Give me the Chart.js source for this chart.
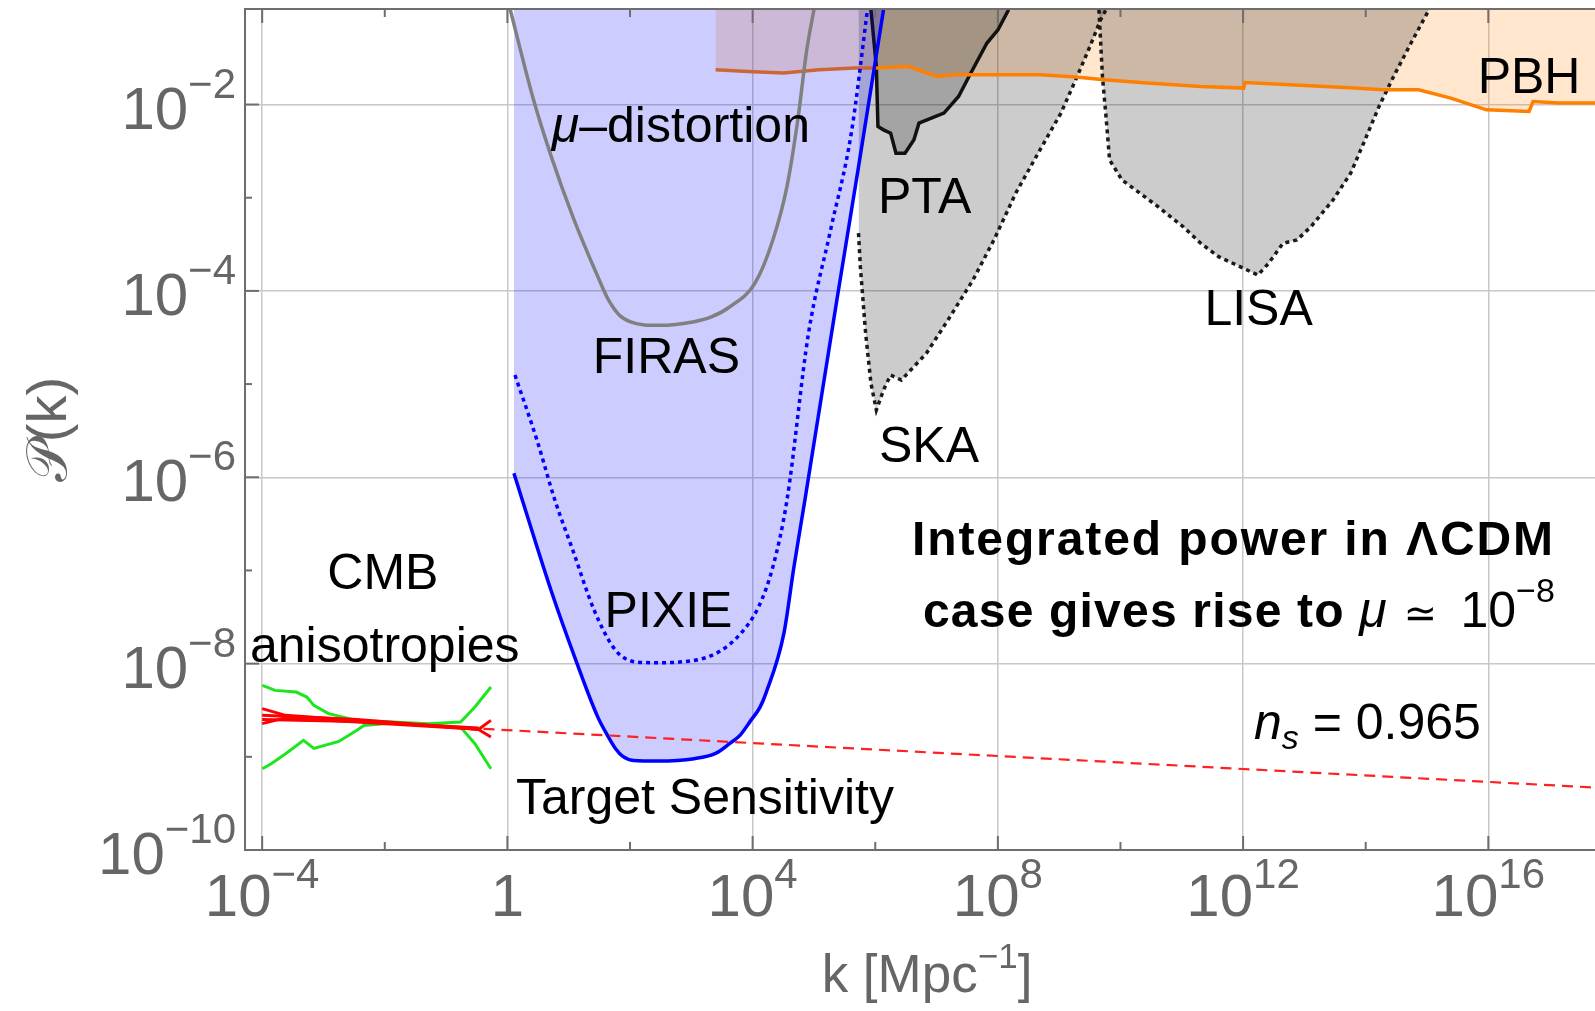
<!DOCTYPE html>
<html>
<head>
<meta charset="utf-8">
<script src="https://cdn.jsdelivr.net/npm/chart.js@4.4.1/dist/chart.umd.min.js"></script>
<style>
  html, body { margin: 0; padding: 0; background: #fff; }
  #wrap { width: 1595px; height: 1011px; position: relative; }
</style>
</head>
<body>
<div id="wrap"><canvas id="myChart"></canvas></div>
<script>
const ctx = document.getElementById("myChart");

// every number below is log10 of k [Mpc^-1] or of P(k)
const xRange = [-4.28, 17.74];
const yRange = [-10, -0.975];
const xTickExps = [-4, -2, 0, 2, 4, 6, 8, 10, 12, 14, 16];
const yTickExps = [-10, -9, -8, -7, -6, -5, -4, -3, -2];
const xLabelExps = [-4, 0, 4, 8, 12, 16];
const yLabelExps = [-10, -8, -6, -4, -2];

// PIXIE target sensitivity (solid blue, shaded above)
const pixieK = [0.106, 0.71, 1.117, 1.475, 1.649, 1.765, 1.882, 2.057, 2.45, 3.047, 3.396, 3.629, 3.793, 3.971, 4.119, 4.216, 4.51, 4.673, 4.852, 5.374, 5.727, 6.135];
const pixieP = [-5.956, -7.21, -7.965, -8.574, -8.788, -8.913, -8.996, -9.039, -9.045, -9.02, -8.963, -8.856, -8.77, -8.609, -8.47, -8.319, -7.675, -6.966, -6.246, -4.098, -2.669, -0.983];
// PIXIE (dotted blue)
const pixieDotK = [0.123, 0.482, 0.775, 1.067, 1.416, 1.765, 2.113, 2.465, 2.814, 3.396, 3.804, 4.096, 4.33, 4.56, 4.912, 5.261, 5.61, 5.873];
const pixieDotP = [-4.903, -5.601, -6.246, -6.783, -7.428, -7.857, -7.983, -7.99, -7.983, -7.893, -7.678, -7.392, -6.962, -6.246, -4.452, -3.378, -2.304, -0.983];
// FIRAS (grey)
const firasK = [0.047, 0.426, 0.716, 1.067, 1.475, 1.649, 1.824, 1.998, 2.232, 2.465, 3.047, 3.336, 3.63, 4.037, 4.33, 4.56, 4.737, 4.883, 5.0];
const firasP = [-0.983, -1.949, -2.559, -3.203, -3.847, -4.097, -4.259, -4.331, -4.366, -4.37, -4.331, -4.277, -4.17, -3.918, -3.453, -2.881, -2.164, -1.412, -0.983];
// PBH (orange)
const pbhK = [3.396, 3.923, 4.504, 5.082, 5.669, 6.018, 6.543, 7.006, 7.3, 7.708, 8.687, 9.269, 9.731, 10.432, 11.308, 12.008, 12.031, 12.765, 13.809, 14.282, 14.863, 15.387, 15.969, 16.664, 16.729, 17.137, 17.74];
const pbhP = [-1.627, -1.646, -1.663, -1.627, -1.609, -1.609, -1.592, -1.699, -1.681, -1.681, -1.681, -1.705, -1.734, -1.77, -1.807, -1.824, -1.764, -1.788, -1.824, -1.842, -1.842, -1.931, -2.057, -2.075, -1.968, -1.985, -1.985];
// PTA (black)
const ptaK = [5.93, 6.018, 6.044, 6.135, 6.251, 6.338, 6.485, 6.631, 6.713, 7.12, 7.359, 7.529, 7.822, 8.002, 8.175];
const ptaP = [-0.983, -1.592, -2.236, -2.272, -2.307, -2.522, -2.522, -2.379, -2.2, -2.092, -1.914, -1.699, -1.34, -1.198, -0.983];
// SKA (dotted black)
const skaK = [5.727, 5.757, 5.843, 5.93, 6.018, 6.135, 6.251, 6.426, 6.834, 7.186, 7.594, 7.936, 8.291, 8.687, 9.029, 9.269, 9.502, 9.677, 9.763];
const skaP = [-3.381, -3.74, -4.455, -4.993, -5.279, -5.064, -4.903, -4.957, -4.67, -4.313, -3.883, -3.453, -2.952, -2.487, -2.092, -1.735, -1.377, -1.09, -0.983];
// LISA (dotted black)
const lisaK = [9.649, 9.706, 9.764, 9.822, 10.024, 10.318, 10.612, 11.02, 11.308, 11.6, 11.949, 12.241, 12.416, 12.651, 12.879, 13.108, 13.467, 13.755, 13.989, 14.217, 14.455, 14.739, 15.033];
const lisaP = [-0.983, -1.699, -2.129, -2.594, -2.809, -2.952, -3.096, -3.31, -3.489, -3.633, -3.74, -3.83, -3.704, -3.489, -3.453, -3.31, -3.024, -2.737, -2.379, -2.021, -1.699, -1.34, -0.983];
// n_s = 0.965 extrapolation (dashed red)
const nsK = [-0.39, 17.74];
const nsP = [-8.7, -9.33];
// CMB constraints (green band, red fits)
const cmbHiK = [-3.997, -3.79, -3.444, -3.271, -3.157, -2.918, -2.455, -1.868, -1.287, -0.764, -0.53, -0.269];
const cmbHiP = [-8.233, -8.287, -8.305, -8.359, -8.448, -8.537, -8.609, -8.627, -8.644, -8.627, -8.466, -8.251];
const cmbLoK = [-3.997, -3.852, -3.618, -3.326, -3.157, -2.749, -2.455, -2.341, -1.868, -0.764, -0.53, -0.269];
const cmbLoP = [-9.128, -9.074, -8.967, -8.824, -8.91, -8.835, -8.716, -8.663, -8.638, -8.681, -8.859, -9.128];
const fitK = [[-4.0, -3.62, -0.47], [-4.0, -3.62, -0.47], [-4.0, -2.45, -0.47], [-4.0, -2.45, -0.47]];
const fitP = [[-8.483, -8.555, -8.705], [-8.644, -8.58, -8.705], [-8.555, -8.6, -8.705], [-8.6, -8.62, -8.69]];
const arrowK = [-0.269, -0.472, -0.269];
const arrowP = [-8.609, -8.706, -8.788];

// text labels placed in data coordinates (center x, baseline y)
const noteLabels = ["FIRAS", "PIXIE", "Target Sensitivity", "PTA", "SKA", "LISA", "PBH", "CMB", "anisotropies"];
const noteK = [2.594, 2.628, 3.222, 6.806, 6.876, 12.253, 16.664, -2.031, -2.0];
const noteP = [-4.882, -7.607, -9.611, -3.163, -5.835, -4.366, -1.877, -7.194, -7.983];

const pts = (ks, ps) => ks.map((k, i) => ({ x: 10 ** k, y: 10 ** ps[i] }));

const FONT = '"Liberation Sans", Arial, "DejaVu Sans", sans-serif';
const axisColor = "#6e6e6e";
const labelColor = "#666666";

function line(ks, ps, color, width, extra) {
  return Object.assign(
    {
      data: pts(ks, ps),
      borderColor: color,
      borderWidth: width,
      pointRadius: 0,
      tension: 0,
      fill: false,
    },
    extra || {}
  );
}

const datasets = [
  line(pbhK, pbhP, "transparent", 0, { backgroundColor: "rgba(255, 128, 0, 0.2)", fill: "end", order: 10 }),
  line(skaK, skaP, "#1a1a1a", 3.5, { borderDash: [4, 4], backgroundColor: "rgba(0, 0, 0, 0.2)", fill: "end", order: 9 }),
  line(lisaK, lisaP, "#1a1a1a", 3.5, { borderDash: [4, 4], backgroundColor: "rgba(0, 0, 0, 0.2)", fill: "end", order: 9 }),
  line(ptaK, ptaP, "#111111", 3.5, { backgroundColor: "rgba(0, 0, 0, 0.2)", fill: "end", order: 8 }),
  line(pbhK, pbhP, "rgb(255, 128, 0)", 3.5, { order: 7 }),
  line(pixieK, pixieP, "#0000ff", 3.5, { backgroundColor: "rgba(0, 0, 255, 0.2)", fill: "end", order: 6, cubicInterpolationMode: "monotone" }),
  line(firasK, firasP, "#808080", 3.5, { order: 5, cubicInterpolationMode: "monotone" }),
  line(pixieDotK, pixieDotP, "#0000ff", 3.5, { borderDash: [4, 4], order: 4, cubicInterpolationMode: "monotone" }),
  line(nsK, nsP, "#ff2020", 2.2, { borderDash: [11, 7], order: 3 }),
  line(cmbHiK, cmbHiP, "#1ee61e", 3, { order: 2 }),
  line(cmbLoK, cmbLoP, "#1ee61e", 3, { order: 2 }),
  ...fitK.map((k, i) => line(k, fitP[i], "#ff0000", 3, { order: 1 })),
  line(arrowK, arrowP, "#ff0000", 3, { order: 1 }),
];

function drawRuns(c, x, y, parts, align) {
  const widths = parts.map((p) => {
    c.font = p.font;
    c.letterSpacing = (p.ls || 0) + "px";
    return c.measureText(p.t).width;
  });
  const total = widths.reduce((a, b) => a + b, 0);
  let cx = align === "center" ? x - total / 2 : align === "right" ? x - total : x;
  parts.forEach((p, i) => {
    c.font = p.font;
    c.letterSpacing = (p.ls || 0) + "px";
    c.fillText(p.t, cx, y + (p.dy || 0));
    cx += widths[i];
  });
  c.letterSpacing = "0px";
}

const decorations = {
  id: "decorations",
  afterDraw(chart) {
    const c = chart.ctx;
    const a = chart.chartArea;
    const px = (e) => chart.scales.x.getPixelForValue(10 ** e);
    const py = (e) => chart.scales.y.getPixelForValue(10 ** e);
    const seg = (x1, y1, x2, y2) => {
      c.beginPath();
      c.moveTo(x1, y1);
      c.lineTo(x2, y2);
      c.stroke();
    };
    c.save();
    c.strokeStyle = axisColor;
    c.lineWidth = 2;
    seg(a.left, a.top, a.right, a.top);
    xTickExps.forEach((e) => {
      const len = e % 4 === 0 ? 14 : 8;
      seg(px(e), a.bottom, px(e), a.bottom - len);
      seg(px(e), a.top, px(e), a.top + len);
    });
    yTickExps.forEach((e) => {
      const len = e % 2 === 0 ? 14 : 7;
      seg(a.left, py(e), a.left + len, py(e));
    });

    // tick labels
    c.fillStyle = labelColor;
    c.textAlign = "left";
    c.textBaseline = "alphabetic";
    const base = `60px ${FONT}`;
    const sup = `42px ${FONT}`;
    xLabelExps.forEach((e) => {
      const parts = e === 0 ? [{ t: "1", font: base }] : [{ t: "10", font: base }, { t: String(e).replace("-", "\u2212"), font: sup, dy: -28 }];
      drawRuns(c, px(e), a.bottom + 66, parts, "center");
    });
    yLabelExps.forEach((e) => {
      drawRuns(c, a.left - 9, py(e), [{ t: "10", font: base, dy: 24 }, { t: String(e).replace("-", "\u2212"), font: sup, dy: -7 }], "right");
    });

    // axis titles
    drawRuns(c, (a.left + a.right) / 2 + 7, 992, [
      { t: "k [Mpc", font: `53px ${FONT}` },
      { t: "\u22121", font: `35px ${FONT}`, dy: -24 },
      { t: "]", font: `53px ${FONT}` },
    ], "center");
    c.save();
    c.translate(66, (a.top + a.bottom) / 2);
    c.rotate(-Math.PI / 2);
    drawRuns(c, 0, 0, [{ t: "\u{1D4AB}(k)", font: `56px ${FONT}` }], "center");
    c.restore();

    // annotations
    c.fillStyle = "#000";
    const lab = `50px ${FONT}`;
    noteLabels.forEach((t, i) => drawRuns(c, px(noteK[i]), py(noteP[i]), [{ t: t, font: lab }], "center"));
    drawRuns(c, px(2.83), py(-2.4), [{ t: "\u03bc", font: `italic 50px ${FONT}` }, { t: "\u2013distortion", font: lab }], "center");
    const bold = `bold 48px ${FONT}`;
    drawRuns(c, px(6.599), py(-6.837), [{ t: "Integrated power in \u039bCDM", font: bold, ls: 1.9 }], "left");
    drawRuns(c, px(6.778), py(-7.607), [
      { t: "case gives rise to ", font: bold, ls: 1.2 },
      { t: "\u03bc", font: `italic 50px ${FONT}` },
      { t: " \u2243 ", font: `40px ${FONT}`, ls: 6 },
      { t: "10", font: lab },
      { t: "\u22128", font: `34px ${FONT}`, dy: -25 },
    ], "left");
    drawRuns(c, px(12.178), py(-8.806), [
      { t: "n", font: `italic 50px ${FONT}` },
      { t: "s", font: `italic 34px ${FONT}`, dy: 10 },
      { t: " = 0.965", font: lab },
    ], "left");
    c.restore();
  },
};

const gridColor = (step) => (context) => {
  const e = Math.round(Math.log10(context.tick.value));
  return e % step === 0 ? "#c8c8c8" : "transparent";
};

const config = {
  type: "line",
  data: { datasets: datasets },
  options: {
    responsive: true,
    maintainAspectRatio: false,
    animation: false,
    devicePixelRatio: 1,
    layout: { padding: { top: 9, left: 0, right: 0, bottom: 0 } },
    plugins: {
      legend: { display: false },
      tooltip: { enabled: false },
    },
    scales: {
      x: {
        type: "logarithmic",
        min: 10 ** xRange[0],
        max: 10 ** xRange[1],
        afterBuildTicks: (s) => {
          s.ticks = xTickExps.map((e) => ({ value: 10 ** e }));
        },
        afterFit: (s) => {
          s.height = 161;
        },
        ticks: { display: false },
        grid: { color: gridColor(4), lineWidth: 1.5, drawTicks: false },
        border: { display: true, color: axisColor, width: 2 },
      },
      y: {
        type: "logarithmic",
        min: 10 ** yRange[0],
        max: 10 ** yRange[1],
        afterBuildTicks: (s) => {
          s.ticks = yTickExps.map((e) => ({ value: 10 ** e }));
        },
        afterFit: (s) => {
          s.width = 245;
        },
        ticks: { display: false },
        grid: { color: gridColor(2), lineWidth: 1.5, drawTicks: false },
        border: { display: true, color: axisColor, width: 2 },
      },
    },
  },
  plugins: [decorations],
};

new Chart(ctx, config);
</script>
</body>
</html>
